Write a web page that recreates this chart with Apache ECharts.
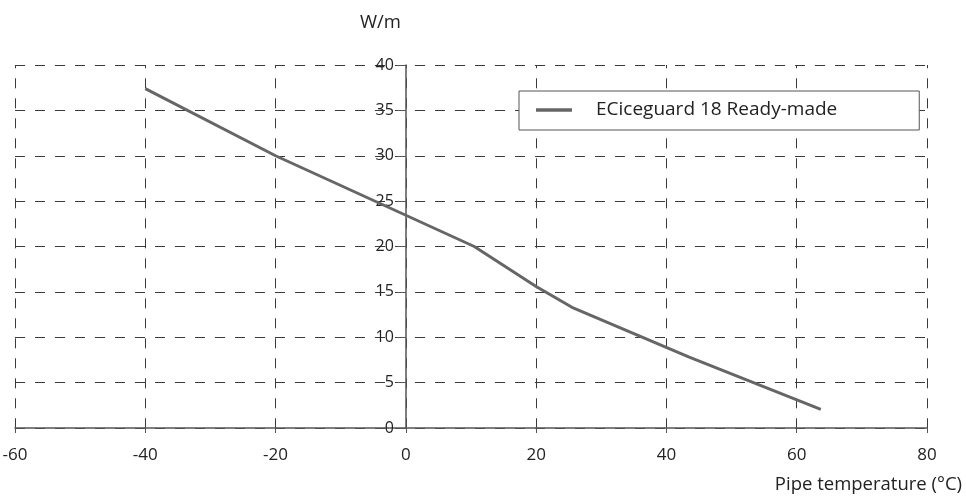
<!DOCTYPE html>
<html>
<head>
<meta charset="utf-8">
<script src="https://cdn.jsdelivr.net/npm/echarts@6/dist/echarts.min.js"></script>
<style>
html,body{margin:0;padding:0;background:#fff;}
#chart{width:966px;height:501px;}
</style>
</head>
<body>
<div id="chart"></div>
<script>
var seriesName = 'ECiceguard 18 Ready-made';
var pipeTemp = [-40, -20, 10.5, 20, 25.5, 43.5, 63.7];
var power = [37.4, 30, 20, 15.6, 13.3, 7.8, 2.05];
var xTicks = {min: -60, max: 80, interval: 20};
var yTicks = {min: 0, max: 40, interval: 5};
var xAxisTitle = 'Pipe temperature (°C)';
var yAxisTitle = 'W/m';

var FONT = 'Open Sans';
var W = 966, GL = 15, GR = 39;
var data = pipeTemp.map(function (t, i) { return [t, power[i]]; });
// y axis crosses the x axis at x = 0
var yAxisOffset = -(W - GL - GR) * (0 - xTicks.min) / (xTicks.max - xTicks.min);

var chart = echarts.init(document.getElementById('chart'), null, {renderer: 'canvas'});
chart.setOption({
  animation: false,
  backgroundColor: '#fff',
  textStyle: {fontFamily: FONT},
  grid: {left: GL, right: GR, top: 65, bottom: 73, containLabel: false, outerBoundsMode: 'none'},
  legend: {
    left: 519, top: 91,
    orient: 'horizontal',
    borderColor: '#555', borderWidth: 1,
    backgroundColor: '#fff',
    padding: [9, 82, 10, 17],
    itemWidth: 36, itemHeight: 3.5,
    textStyle: {fontFamily: FONT, fontSize: 19, color: '#222', padding: [0, 0, 0, 19], lineHeight: 20},
    data: [{name: seriesName, icon: 'rect', itemStyle: {color: '#666'}}],
    selectedMode: false
  },
  xAxis: {
    type: 'value',
    min: xTicks.min, max: xTicks.max, interval: xTicks.interval,
    axisLine: {show: true, onZero: true, lineStyle: {color: '#555', width: 1.5}},
    axisTick: {show: true, length: 5, inside: false, lineStyle: {color: '#555'}},
    axisLabel: {fontFamily: FONT, fontSize: 17, color: '#222', margin: 19},
    splitLine: {show: true, lineStyle: {color: '#3a3a3a', width: 1, type: [10, 10], dashOffset: 6.7}}
  },
  yAxis: {
    type: 'value',
    min: yTicks.min, max: yTicks.max, interval: yTicks.interval,
    offset: yAxisOffset,
    axisLine: {show: true, onZero: false, lineStyle: {color: '#555', width: 1.5}},
    axisTick: {show: true, length: 9, lineStyle: {color: '#555'}},
    axisLabel: {fontFamily: FONT, fontSize: 16, color: '#222', margin: 12},
    splitLine: {show: true, lineStyle: {color: '#3a3a3a', width: 1, type: [10, 10], dashOffset: 0}}
  },
  graphic: [
    {type: 'text', x: 360, y: 23, style: {text: yAxisTitle, fontFamily: FONT, fontSize: 18.5, fill: '#222', align: 'left', verticalAlign: 'middle'}},
    {type: 'text', x: 962, y: 485, style: {text: xAxisTitle, fontFamily: FONT, fontSize: 18.5, fill: '#222', align: 'right', verticalAlign: 'middle'}}
  ],
  series: [{
    name: seriesName,
    type: 'line',
    data: data,
    symbol: 'none',
    smooth: false,
    lineStyle: {color: '#666', width: 3},
    itemStyle: {color: '#666'},
    z: 5
  }]
});
</script>
</body>
</html>
